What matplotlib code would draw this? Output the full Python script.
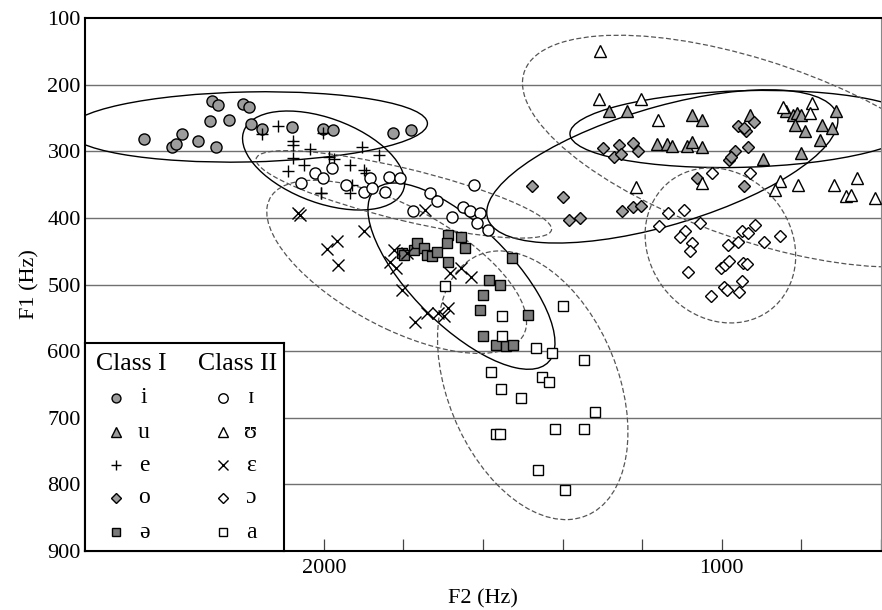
import numpy as np
import matplotlib.pyplot as plt
from matplotlib.patches import Ellipse
from matplotlib.ticker import MultipleLocator

plt.rcParams['font.family'] = ['Liberation Serif', 'DejaVu Serif']

# formant values (Hz), F2 then F1 for every vowel
# Class I
i_f2 = [2452, 2382, 2372, 2356, 2317, 2272, 2287, 2239, 2282, 2267, 2202, 2187, 2182, 2156, 2081, 2003, 1976, 1825, 1780]
i_f1 = [282, 293, 289, 274, 284, 294, 254, 253, 224, 231, 229, 234, 259, 267, 264, 267, 268, 273, 268]

u_f2 = [1284, 1239, 1075, 1051, 1162, 1137, 1124, 1087, 1076, 1049, 928, 897, 839, 820, 812, 801, 714, 817, 791, 749, 722, 753, 801]
u_f1 = [240, 240, 246, 253, 289, 289, 292, 292, 286, 293, 246, 312, 240, 246, 243, 246, 240, 260, 269, 260, 265, 283, 302]

e_f2 = [2156, 2114, 2077, 2077, 2035, 2077, 2091, 2049, 2006, 2003, 1987, 1974, 1933, 1903, 1862, 1899, 1895, 1929, 1933, 2008]
e_f1 = [274, 262, 285, 290, 297, 310, 329, 320, 362, 273, 308, 312, 320, 293, 306, 328, 333, 350, 363, 363]

o_f2 = [1476, 1398, 1383, 1356, 1251, 1224, 1203, 1298, 1270, 1259, 1254, 1224, 1210, 959, 940, 945, 920, 934, 967, 983, 976, 1062, 945]
o_f1 = [352, 369, 403, 400, 390, 384, 382, 295, 308, 290, 304, 287, 300, 262, 269, 265, 256, 293, 300, 313, 309, 340, 352]

schwa_f2 = [1804, 1799, 1774, 1766, 1749, 1741, 1729, 1716, 1687, 1691, 1656, 1645, 1687, 1586, 1557, 1601, 1608, 1601, 1568, 1542, 1525, 1487, 1526]
schwa_f1 = [452, 455, 448, 438, 445, 456, 457, 451, 426, 438, 428, 445, 466, 493, 500, 516, 539, 578, 591, 592, 591, 546, 460]

# Class II
ih_f2 = [2058, 2021, 2001, 1980, 1945, 1899, 1883, 1879, 1845, 1837, 1808, 1777, 1733, 1716, 1679, 1623, 1649, 1633, 1608, 1616, 1588]
ih_f1 = [348, 333, 340, 325, 350, 361, 340, 355, 361, 338, 340, 390, 362, 375, 399, 350, 383, 390, 393, 408, 418]

uh_f2 = [1305, 1309, 1203, 1160, 845, 774, 778, 853, 866, 809, 718, 660, 687, 676, 616, 1216, 1049]
uh_f1 = [150, 222, 222, 253, 233, 228, 242, 345, 358, 350, 350, 340, 367, 366, 370, 354, 348]

eh_f2 = [2066, 2060, 1898, 1966, 1993, 1964, 1823, 1833, 1818, 1803, 1772, 1741, 1712, 1699, 1687, 1683, 1655, 1629, 1745, 1792]
eh_f1 = [393, 396, 419, 435, 447, 470, 448, 466, 475, 508, 557, 543, 543, 548, 535, 483, 475, 488, 388, 453]

oh_f2 = [1134, 1095, 1159, 1056, 1093, 1106, 1075, 1079, 1085, 985, 959, 949, 934, 916, 893, 853, 1003, 992, 981, 947, 937, 949, 995, 987, 956, 1028, 1024, 929]
oh_f1 = [393, 388, 412, 408, 419, 428, 437, 450, 481, 440, 436, 419, 423, 411, 436, 427, 475, 470, 465, 467, 469, 495, 504, 508, 512, 518, 333, 333]

a_f2 = [1695, 1398, 1553, 1553, 1468, 1427, 1347, 1579, 1451, 1435, 1554, 1504, 1318, 1567, 1557, 1420, 1345, 1462, 1393]
a_f1 = [503, 532, 547, 577, 595, 603, 613, 632, 639, 646, 657, 670, 691, 724, 724, 717, 717, 779, 808]

class1_labels = ['i', 'u', 'e', 'o', 'ə']
class2_labels = ['ɪ', 'ʊ', 'ɛ', 'ɔ', 'a']

GRAY = '#9c9c9c'
DARK = '#7a7a7a'

class1 = [
    (i_f2, i_f1, dict(marker='o', ms=8, mfc=GRAY)),
    (u_f2, u_f1, dict(marker='^', ms=8.5, mfc=GRAY)),
    (e_f2, e_f1, dict(marker='+', ms=8.5)),
    (o_f2, o_f1, dict(marker='D', ms=5.8, mfc=GRAY)),
    (schwa_f2, schwa_f1, dict(marker='s', ms=7.5, mfc=DARK)),
]
class2 = [
    (ih_f2, ih_f1, dict(marker='o', ms=8, mfc='white')),
    (uh_f2, uh_f1, dict(marker='^', ms=8.5, mfc='white')),
    (eh_f2, eh_f1, dict(marker='x', ms=8)),
    (oh_f2, oh_f1, dict(marker='D', ms=5.8, mfc='white')),
    (a_f2, a_f1, dict(marker='s', ms=7.5, mfc='white')),
]


def conf_ellipse(ax, x, y, **kw):
    # 95% ellipse of the points
    x = np.asarray(x, float)
    y = np.asarray(y, float)
    vals, vecs = np.linalg.eigh(np.cov(x, y))
    k = np.sqrt(5.991)
    angle = np.degrees(np.arctan2(vecs[1, 1], vecs[0, 1]))
    ell = Ellipse((x.mean(), y.mean()), 2 * k * np.sqrt(vals[1]), 2 * k * np.sqrt(vals[0]),
                  angle=angle, fill=False, **kw)
    ax.add_patch(ell)


fig = plt.figure(figsize=(8.82, 6.10), dpi=100)
ax = fig.add_axes([85 / 882, 1 - 551 / 610, 796 / 882, 533 / 610])

for f2, f1, st in class1:
    conf_ellipse(ax, f2, f1, edgecolor='black', lw=1.0, zorder=2)
    ax.plot(f2, f1, ls='none', mec='black', mew=1.0, zorder=3, **st)
for f2, f1, st in class2:
    conf_ellipse(ax, f2, f1, edgecolor='#555555', lw=0.9, ls=(0, (4, 2)), zorder=2)
    ax.plot(f2, f1, ls='none', mec='black', mew=1.0, zorder=3, **st)

ax.set_xlim(2600, 600)
ax.set_ylim(900, 100)
ax.xaxis.set_major_locator(MultipleLocator(1000))
ax.xaxis.set_minor_locator(MultipleLocator(200))
ax.set_yticks(range(100, 1000, 100))
ax.tick_params(axis='x', which='both', direction='in', length=9, width=0.9, color='#444444',
               labelsize=16, pad=6)
ax.tick_params(axis='y', length=0, labelsize=16, pad=3)
for y in range(200, 900, 100):
    ax.axhline(y, color='#707070', lw=1.0, zorder=1)
for side in ['top', 'left', 'bottom']:
    ax.spines[side].set_linewidth(1.5)
ax.spines['right'].set_linewidth(0.8)
ax.spines['right'].set_color('#888888')

ax.set_xlabel('F2 (Hz)', fontsize=16, labelpad=8)
ax.set_ylabel('F1 (Hz)', fontsize=16, labelpad=6)

# legend box drawn by hand
leg = fig.add_axes([85 / 882, 1 - 551 / 610, 199 / 882, 208 / 610], zorder=5)
leg.set_xlim(0, 1)
leg.set_ylim(0, 1)
leg.set_xticks([])
leg.set_yticks([])
for s in leg.spines.values():
    s.set_linewidth(1.5)
leg.text(0.235, 0.90, 'Class I', ha='center', va='center', fontsize=18.5)
leg.text(0.766, 0.90, 'Class II', ha='center', va='center', fontsize=18.5)
rows = [0.736, 0.572, 0.413, 0.255, 0.091]
for k in range(5):
    st1 = dict(class1[k][2])
    st2 = dict(class2[k][2])
    st1['ms'] = st1['ms'] * 0.8
    st2['ms'] = st2['ms'] * 0.85
    leg.plot([0.156], [rows[k]], ls='none', mec='black', mew=1.0, **st1)
    leg.plot([0.693], [rows[k]], ls='none', mec='black', mew=1.0, **st2)
    leg.text(0.296, rows[k], class1_labels[k], ha='center', va='center', fontsize=17)
    leg.text(0.834, rows[k], class2_labels[k], ha='center', va='center', fontsize=17)

fig.savefig('out.png', dpi=100)
